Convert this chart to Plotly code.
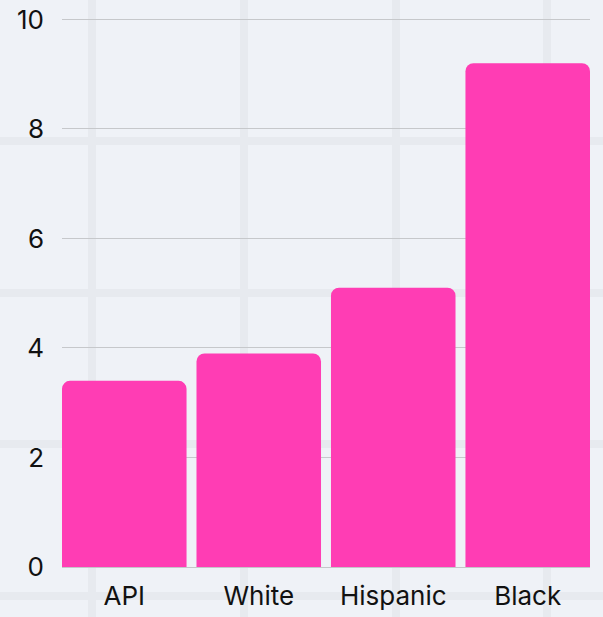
import plotly.graph_objects as go

categories = ["API", "White", "Hispanic", "Black"]
values = [3.4, 3.9, 5.1, 9.2]
y_ticks = [0, 2, 4, 6, 8, 10]

W, H = 603, 617
L, R, T, B = 62, 13, 14, 50
pw, ph = W - L - R, H - T - B

BG = "#eff2f7"
BAND = "#e7eaef"
PINK = "#ff3db4"
FS = 26

fig = go.Figure(go.Bar(
    x=categories, y=values,
    marker=dict(color=PINK, cornerradius=8, line=dict(width=0)),
    hoverinfo="skip",
))

def px_to_paper_x(px):
    return (px - L) / pw

def px_to_paper_y(py):
    return (H - B - py) / ph

shapes = []
for xs in [88, 240, 392, 543]:
    shapes.append(dict(type="rect", xref="paper", yref="paper",
                       x0=px_to_paper_x(xs), x1=px_to_paper_x(xs + 8),
                       y0=px_to_paper_y(H), y1=px_to_paper_y(0),
                       fillcolor=BAND, line=dict(width=0), layer="below"))
for ys in [137, 289, 440, 592]:
    shapes.append(dict(type="rect", xref="paper", yref="paper",
                       x0=px_to_paper_x(0), x1=px_to_paper_x(W),
                       y0=px_to_paper_y(ys + 8), y1=px_to_paper_y(ys),
                       fillcolor=BAND, line=dict(width=0), layer="below"))

fig.update_layout(
    width=W, height=H,
    margin=dict(l=L, r=R, t=T, b=B),
    paper_bgcolor=BG, plot_bgcolor=BG,
    bargap=0.074,
    showlegend=False,
    shapes=shapes,
    font=dict(family="Inter, sans-serif", size=FS, color="#111111"),
    xaxis=dict(range=[-0.463, 3.463], showgrid=False, zeroline=False,
               showline=True, linecolor="#c4c6c9", linewidth=1,
               ticks="", ticklabelstandoff=6, tickfont=dict(size=FS),
               automargin=False),
    yaxis=dict(range=[0, 10.1], tickvals=y_ticks, showgrid=True,
               gridcolor="#c6c8cb", gridwidth=1, zeroline=False,
               showline=False, ticks="", ticklabelstandoff=17,
               tickfont=dict(size=FS), automargin=False),
)

fig.write_html("out.html", config={"displayModeBar": False},
               post_script="document.body.style.margin='0';document.body.style.overflow='hidden';")
